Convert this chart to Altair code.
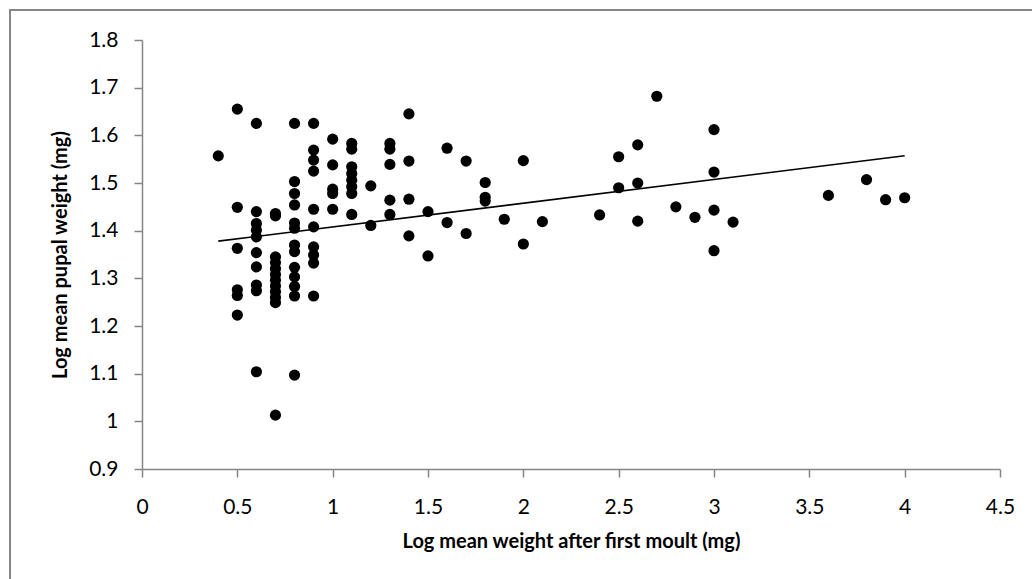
import altair as alt
import pandas as pd

# Log mean weight after first moult (mg)
moult_weight = [
    0.4,
    0.5, 0.5, 0.5, 0.5, 0.5, 0.5,
    0.6, 0.6, 0.6, 0.6, 0.6, 0.6, 0.6, 0.6, 0.6, 0.6,
    0.7, 0.7, 0.7, 0.7, 0.7, 0.7, 0.7, 0.7, 0.7, 0.7, 0.7, 0.7,
    0.8, 0.8, 0.8, 0.8, 0.8, 0.8, 0.8, 0.8, 0.8, 0.8, 0.8, 0.8, 0.8,
    0.9, 0.9, 0.9, 0.9, 0.9, 0.9, 0.9, 0.9, 0.9, 0.9,
    1.0, 1.0, 1.0, 1.0, 1.0,
    1.1, 1.1, 1.1, 1.1, 1.1, 1.1, 1.1, 1.1,
    1.2, 1.2,
    1.3, 1.3, 1.3, 1.3, 1.3,
    1.4, 1.4, 1.4, 1.4,
    1.5, 1.5,
    1.6, 1.6,
    1.7, 1.7,
    1.8, 1.8, 1.8,
    1.9,
    2.0, 2.0,
    2.1,
    2.4,
    2.5, 2.5,
    2.6, 2.6, 2.6,
    2.7,
    2.8,
    2.9,
    3.0, 3.0, 3.0, 3.0,
    3.1,
    3.6,
    3.8,
    3.9,
    4.0,
]

# Log mean pupal weight (mg)
pupal_weight = [
    1.557,
    1.655, 1.449, 1.363, 1.276, 1.264, 1.223,
    1.625, 1.440, 1.415, 1.401, 1.387, 1.354, 1.324, 1.286, 1.274, 1.104,
    1.436, 1.431, 1.345, 1.333, 1.320, 1.308, 1.296, 1.284, 1.272, 1.260, 1.249, 1.013,
    1.625, 1.503, 1.478, 1.454, 1.416, 1.405, 1.370, 1.356, 1.323, 1.303, 1.283, 1.263, 1.097,
    1.625, 1.569, 1.548, 1.525, 1.445, 1.408, 1.366, 1.349, 1.332, 1.263,
    1.592, 1.538, 1.487, 1.478, 1.445,
    1.583, 1.571, 1.534, 1.520, 1.506, 1.492, 1.478, 1.434,
    1.494, 1.411,
    1.583, 1.571, 1.539, 1.464, 1.434,
    1.645, 1.546, 1.466, 1.389,
    1.440, 1.347,
    1.573, 1.417,
    1.546, 1.394,
    1.501, 1.470, 1.462,
    1.424,
    1.547, 1.372,
    1.419,
    1.433,
    1.555, 1.490,
    1.580, 1.500, 1.420,
    1.682,
    1.450,
    1.428,
    1.612, 1.523, 1.443, 1.358,
    1.418,
    1.474,
    1.507,
    1.465,
    1.469,
]

# linear trend line end points
trend_x = [0.4, 4.0]
trend_y = [1.378, 1.557]

x_ticks = [0, 0.5, 1, 1.5, 2, 2.5, 3, 3.5, 4, 4.5]
y_ticks = [0.9, 1.0, 1.1, 1.2, 1.3, 1.4, 1.5, 1.6, 1.7, 1.8]

pts = pd.DataFrame({"x": moult_weight, "y": pupal_weight})
trend = pd.DataFrame({"x": trend_x, "y": trend_y})

W, H = 858, 429
FONT = "Lato"
GREY = "#868686"

xscale = alt.Scale(domain=[0, 4.5], nice=False, zero=False)
yscale = alt.Scale(domain=[0.9, 1.8], nice=False, zero=False)

x_axis = alt.Axis(
    values=x_ticks, format="~g", title="Log mean weight after first moult (mg)",
    grid=False, domainColor=GREY, domainWidth=1.5, tickColor=GREY, tickWidth=1.5,
    tickSize=8, labelFont=FONT, labelFontSize=21, labelColor="#000000",
    labelPadding=19, titleFont=FONT, titleFontSize=20, titleFontWeight="bold",
    titleColor="#000000", titlePadding=14, labelFlush=False,
)
y_axis = alt.Axis(
    values=y_ticks, format="~g", title="Log mean pupal weight (mg)",
    grid=False, domainColor=GREY, domainWidth=1.5, tickColor=GREY, tickWidth=1.5,
    tickSize=8, labelFont=FONT, labelFontSize=21, labelColor="#000000",
    labelPadding=16, titleFont=FONT, titleFontSize=20, titleFontWeight="bold",
    titleColor="#000000", titlePadding=18, labelFlush=False,
)

frame = alt.Chart(pd.DataFrame({"a": [0]})).mark_rect(
    fill="white", fillOpacity=0, stroke=GREY, strokeWidth=2
).encode(
    x=alt.value(-132), x2=alt.value(W + 60),
    y=alt.value(-30), y2=alt.value(H + 200),
)

points = alt.Chart(pts).mark_circle(size=125, color="#000000", opacity=1).encode(
    x=alt.X("x:Q", scale=xscale, axis=x_axis),
    y=alt.Y("y:Q", scale=yscale, axis=y_axis),
)

line = alt.Chart(trend).mark_line(color="#000000", strokeWidth=1.6).encode(
    x=alt.X("x:Q", scale=xscale),
    y=alt.Y("y:Q", scale=yscale),
)

chart = alt.layer(frame, points, line).properties(
    width=W, height=H,
    autosize=alt.AutoSizeParams(type="none"),
    padding={"left": 142, "top": 40, "right": 32, "bottom": 110},
    background="white",
).configure_view(stroke=None)

chart.save("out.html", embed_options={"renderer": "svg", "actions": False})
